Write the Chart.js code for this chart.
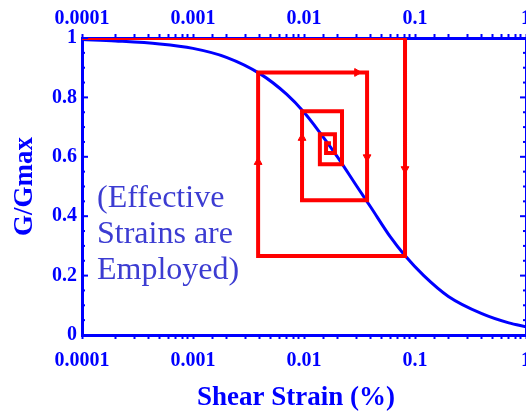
<!DOCTYPE html>
<html>
<head>
<meta charset="utf-8">
<script src="https://cdn.jsdelivr.net/npm/chart.js@4"></script>
<style>
  html, body { margin: 0; padding: 0; background: #fff; overflow: hidden; }
  #wrap { position: relative; width: 526px; height: 413px; overflow: hidden; }
  #c { position: absolute; left: 0; top: 0; }
  #note { position: absolute; left: 97px; top: 178px; font-family: "Liberation Serif", "Times New Roman", serif;
          font-size: 32px; line-height: 36px; color: #3c3cd2; white-space: nowrap; }
</style>
</head>
<body>
<div id="wrap">
  <canvas id="c" width="592" height="414"></canvas>
  <div id="note">(Effective<br>Strains are<br>Employed)</div>
</div>
<script>
// ---- data ----
const strain = [0.0001, 0.0002, 0.0005, 0.001, 0.002, 0.004, 0.007, 0.01, 0.014, 0.02, 0.03, 0.04, 0.06, 0.08, 0.12, 0.2, 0.4, 0.7, 1];
const ggmax  = [0.995, 0.99, 0.98, 0.965, 0.935, 0.88, 0.81, 0.75, 0.68, 0.60, 0.50, 0.43, 0.33, 0.27, 0.20, 0.13, 0.072, 0.041, 0.028];

const pathStrain = [0.0001, 0.0813, 0.0813, 0.00386, 0.00386, 0.037, 0.037, 0.0096, 0.0096, 0.022, 0.022, 0.0139, 0.0139, 0.019, 0.019, 0.0158, 0.0158, 0.0175];
const pathG      = [1, 1, 0.266, 0.266, 0.884, 0.884, 0.454, 0.454, 0.753, 0.753, 0.575, 0.575, 0.676, 0.676, 0.613, 0.613, 0.646, 0.646];

const arrowStrain = [0.030, 0.037, 0.0813, 0.00386, 0.0096];
const arrowG      = [0.884, 0.599, 0.559, 0.582, 0.663];
const arrowAngle  = [90, 180, 180, 0, 0];

const xTickValues = [0.0001, 0.001, 0.01, 0.1, 1];
const xTickLabels = ['0.0001', '0.001', '0.01', '0.1', '1'];
const yTickValues = [0, 0.2, 0.4, 0.6, 0.8, 1];
const yTickLabels = ['0', '0.2', '0.4', '0.6', '0.8', '1'];

const xTitle = 'Shear Strain (%)';
const yTitle = 'G/Gmax';

// ---- chart ----
const BLUE = '#0000ff', RED = '#ff0000';
const tickFont = { family: '"Liberation Serif", "Times New Roman", serif', size: 20, weight: 'bold' };
const titleFont = { family: '"Liberation Serif", "Times New Roman", serif', size: 27, weight: 'bold' };

function xLabel(v) {
  const i = xTickValues.findIndex(t => Math.abs(Math.log10(t) - Math.log10(v)) < 1e-6);
  return i >= 0 ? xTickLabels[i] : '';
}
function yLabel(v) {
  const i = yTickValues.findIndex(t => Math.abs(t - v) < 1e-6);
  return i >= 0 ? yTickLabels[i] : '';
}

const xAxisBase = (pos, h, pad) => ({
  type: 'logarithmic', position: pos, min: 0.0001, max: 1,
  border: { display: true, color: BLUE, width: 3 },
  grid: { drawOnChartArea: false, drawTicks: true, tickLength: 4, tickWidth: 2, color: BLUE },
  ticks: { autoSkip: false, maxRotation: 0, color: BLUE, font: tickFont, padding: pad, callback: xLabel },
  afterFit: s => { s.height = h; }
});
const yAxisBase = (pos, w, showLabels) => ({
  type: 'linear', position: pos, min: 0, max: 1,
  border: { display: true, color: BLUE, width: 3 },
  grid: { drawOnChartArea: false, drawTicks: false, color: BLUE },
  ticks: { display: showLabels, stepSize: 0.05, autoSkip: false, color: BLUE, font: tickFont, padding: 5, callback: yLabel },
  afterFit: s => { s.width = w; }
});

const innerTicks = {
  id: 'innerTicks',
  afterDraw(chart) {
    const ctx = chart.ctx;
    ctx.save();
    ctx.strokeStyle = BLUE;
    ctx.lineWidth = 2;
    ['y', 'y2'].forEach(id => {
      const sc = chart.scales[id];
      const x0 = id === 'y' ? chart.chartArea.left : chart.chartArea.right;
      const dir = id === 'y' ? 1 : -1;
      sc.ticks.forEach(t => {
        const p = sc.getPixelForValue(t.value);
        const len = yLabel(t.value) ? 6 : 3;
        ctx.beginPath();
        ctx.moveTo(x0, p);
        ctx.lineTo(x0 + dir * len, p);
        ctx.stroke();
      });
    });
    ctx.restore();
  }
};

new Chart(document.getElementById('c'), {
  data: {
    datasets: [
      {
        type: 'scatter', order: 0, xAxisID: 'x', yAxisID: 'y',
        data: arrowStrain.map((s, i) => ({ x: s, y: arrowG[i] })),
        pointStyle: 'triangle', rotation: arrowAngle, pointRadius: 4.5,
        backgroundColor: RED, borderColor: RED, borderWidth: 1, showLine: false
      },
      {
        type: 'line', order: 1, xAxisID: 'x', yAxisID: 'y',
        data: pathStrain.map((s, i) => ({ x: s, y: pathG[i] })),
        borderColor: RED, borderWidth: 4, pointRadius: 0, tension: 0, fill: false,
        borderJoinStyle: 'miter', borderCapStyle: 'butt'
      },
      {
        type: 'line', order: 2, xAxisID: 'x', yAxisID: 'y',
        data: strain.map((s, i) => ({ x: s, y: ggmax[i] })),
        borderColor: BLUE, borderWidth: 3, pointRadius: 0, fill: false,
        cubicInterpolationMode: 'monotone'
      }
    ]
  },
  options: {
    responsive: false, animation: false, devicePixelRatio: 1,
    layout: { padding: 0 },
    plugins: {
      legend: { display: false }, tooltip: { enabled: false },
      title: { display: true, position: 'bottom', text: xTitle, color: BLUE, font: titleFont, padding: 0 }
    },
    scales: {
      x: xAxisBase('bottom', 46.6, 10),
      x2: xAxisBase('top', 38, 3),
      y: Object.assign(yAxisBase('left', 82, true), {
        title: { display: true, text: yTitle, color: BLUE, font: titleFont, padding: { top: 9, bottom: 0 } }
      }),
      y2: yAxisBase('right', 66, false)
    }
  },
  plugins: [innerTicks]
});
</script>
</body>
</html>
